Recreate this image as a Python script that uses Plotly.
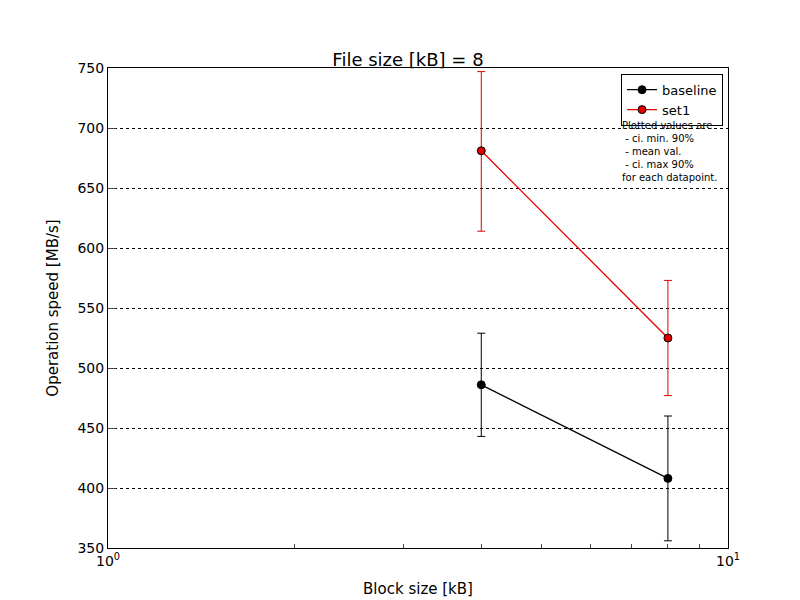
import plotly.graph_objects as go

block_kb = [4, 8]
baseline = [486, 408]
baseline_lo = [443, 356]
baseline_hi = [529, 460]
set1 = [681, 525]
set1_lo = [614, 477]
set1_hi = [747, 573]


def series(name, y, lo, hi, color):
    return go.Scatter(
        x=block_kb, y=y, name=name, mode="lines+markers",
        line=dict(color=color, width=1.3),
        marker=dict(color=color, size=8, line=dict(color="black", width=1)),
        error_y=dict(type="data", symmetric=False,
                     array=[h - v for h, v in zip(hi, y)],
                     arrayminus=[v - l for v, l in zip(y, lo)],
                     color=color, thickness=1, width=4),
    )


fig = go.Figure()
fig.add_trace(series("baseline", baseline, baseline_lo, baseline_hi, "black"))
fig.add_trace(series("set1", set1, set1_lo, set1_hi, "#e00000"))

fig.update_layout(
    width=800, height=600, plot_bgcolor="white", paper_bgcolor="white",
    margin=dict(l=100, r=80, t=60, b=60),
    font=dict(family="DejaVu Sans", color="black", size=14),
    title=dict(text="File size [kB] = 8", x=0.5, xanchor="center", y=0.925,
               font=dict(size=18)),
    legend=dict(x=0.992, y=0.988, xanchor="right", yanchor="top",
                bordercolor="black", borderwidth=1, bgcolor="white",
                font=dict(size=13), tracegroupgap=0),
    annotations=[dict(
        xref="paper", yref="paper", x=0.825, y=0.895, xanchor="left", yanchor="top",
        align="left", showarrow=False, font=dict(size=10),
        text="Plotted values are<br> - ci. min. 90%<br> - mean val.<br> - ci. max 90%<br>for each datapoint.",
    )],
)
fig.update_xaxes(
    type="log", range=[0, 1], showgrid=False, mirror=True, showline=True,
    linecolor="black", ticks="inside", ticklen=8,
    tickvals=[1, 10], ticktext=["10<sup>0</sup>", "10<sup>1</sup>"],
    minor=dict(ticks="inside", ticklen=4, tickvals=[2, 3, 4, 5, 6, 7, 8, 9]),
    title=dict(text="Block size [kB]", font=dict(size=15)), zeroline=False,
)
fig.update_yaxes(
    range=[350, 750], dtick=50, showgrid=True, gridcolor="black",
    griddash="dot", gridwidth=0.6, mirror=True, showline=True, linecolor="black",
    ticks="inside", ticklen=8, zeroline=False,
    title=dict(text="Operation speed [MB/s]", font=dict(size=15)),
)
fig.write_html("out.html")
